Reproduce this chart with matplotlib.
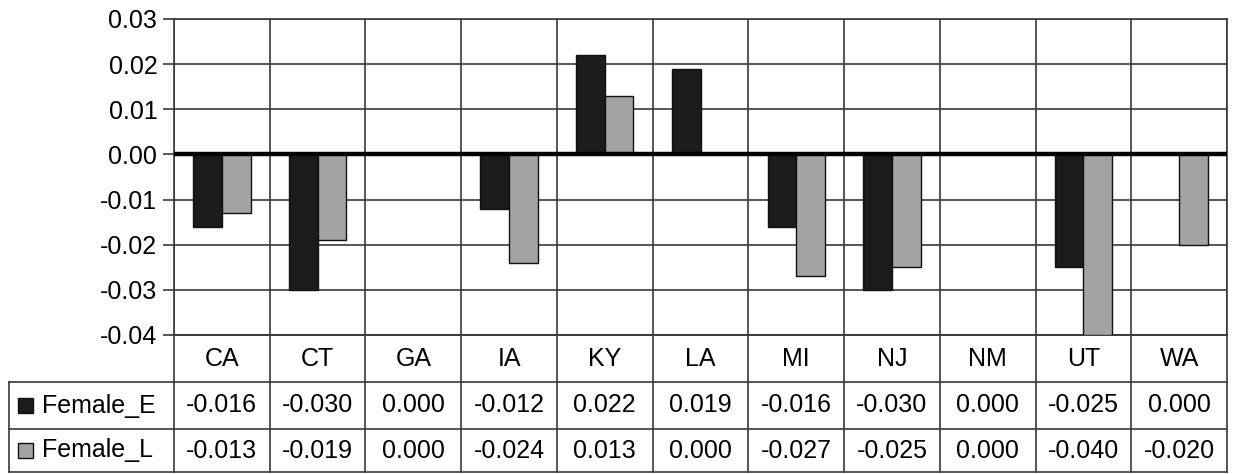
import matplotlib.pyplot as plt
import matplotlib.transforms as mtransforms
import numpy as np

plt.rcParams['font.family'] = ['Liberation Sans', 'DejaVu Sans']

states = ['CA', 'CT', 'GA', 'IA', 'KY', 'LA', 'MI', 'NJ', 'NM', 'UT', 'WA']
female_e = [-0.016, -0.030, 0.000, -0.012, 0.022, 0.019, -0.016, -0.030, 0.000, -0.025, 0.000]
female_l = [-0.013, -0.019, 0.000, -0.024, 0.013, 0.000, -0.027, -0.025, 0.000, -0.040, -0.020]
series = [('Female_E', female_e, '#1c1c1c'), ('Female_L', female_l, '#a3a3a3')]

W, H = 1233, 474
fig = plt.figure(figsize=(W / 100, H / 100), dpi=100)

# plot area in pixel terms
left, right, top, bottom = 174, 1227, 19, 335
ax = fig.add_axes([left / W, 1 - bottom / H, (right - left) / W, (bottom - top) / H])

def fy(py):
    return 1 - py / H

n = len(states)
x = np.arange(n)
bw = 0.30
grid_c = '#3a3a3a'

for i, (name, vals, col) in enumerate(series):
    off = (i - 0.5) * bw
    ax.bar(x + off, vals, width=bw, color=col, edgecolor='#111111', linewidth=1, zorder=3)

ax.axhline(0, color='black', lw=3.2, zorder=4)
ax.set_xlim(-0.5, n - 0.5)
ax.set_ylim(-0.04, 0.03)
yt = np.arange(-0.04, 0.0301, 0.01)
ax.set_yticks(yt)
ax.set_yticklabels(['%.2f' % v for v in yt], fontsize=18)
ax.tick_params(axis='y', length=8, width=1.2, color=grid_c, pad=4)
ax.set_xticks([])
ax.yaxis.grid(True, color=grid_c, lw=1.2, zorder=0)
for b in np.arange(-0.5, n, 1.0):
    ax.axvline(b, color=grid_c, lw=1.2, zorder=1)
for s in ax.spines.values():
    s.set_color(grid_c)
    s.set_linewidth(1.2)

# data table below the plot
tr = mtransforms.blended_transform_factory(ax.transData, fig.transFigure)
rows = [335, 382, 429, 472]
lkw = dict(color=grid_c, lw=1.2, clip_on=False)
for b in np.arange(-0.5, n, 1.0):
    ax.plot([b, b], [fy(rows[0]), fy(rows[-1])], transform=tr, **lkw)
for r in rows:
    ax.plot([-0.5, n - 0.5], [fy(r), fy(r)], transform=tr, **lkw)

# legend column of the table
for r in rows[1:]:
    fig.add_artist(plt.Line2D([9 / W, left / W], [fy(r), fy(r)], **lkw))
fig.add_artist(plt.Line2D([9 / W, 9 / W], [fy(rows[1]), fy(rows[-1])], **lkw))

for j, st in enumerate(states):
    ax.text(j, fy((rows[0] + rows[1]) / 2), st, transform=tr, ha='center', va='center', fontsize=18)

for i, (name, vals, col) in enumerate(series):
    yc = fy((rows[i + 1] + rows[i + 2]) / 2)
    for j, v in enumerate(vals):
        ax.text(j, yc, '%.3f' % v, transform=tr, ha='center', va='center', fontsize=18)
    fig.add_artist(plt.Rectangle((18 / W, yc - 7.5 / H), 15 / W, 15 / H, facecolor=col,
                                 edgecolor='#111111', lw=1, transform=fig.transFigure))
    fig.text(42 / W, yc, name, ha='left', va='center', fontsize=18)

fig.savefig('out.png', dpi=100)
